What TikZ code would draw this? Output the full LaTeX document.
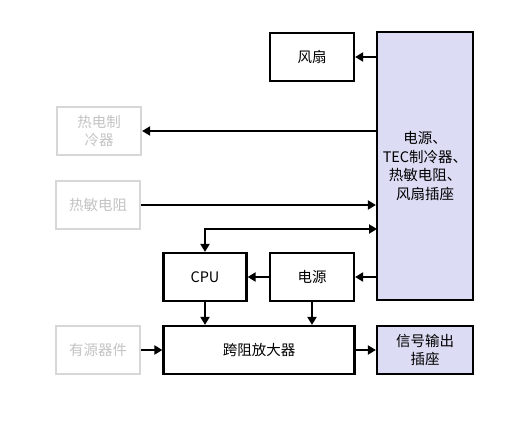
\documentclass[tikz,border=0pt]{standalone}
\usepackage{fontspec}
\setmainfont{Noto Sans CJK SC}
\usetikzlibrary{arrows.meta,positioning,calc}
\definecolor{lav}{RGB}{220,220,245}
\definecolor{faint}{RGB}{215,215,215}
\definecolor{fainttext}{RGB}{195,195,195}

\begin{document}
\begin{tikzpicture}[x=1pt,y=-1pt,
	blk/.style={draw,line width=2.2pt,minimum width=84pt,minimum height=48pt,align=center,inner sep=1pt,font=\fontsize{14.5}{18.5}\selectfont},
	dim/.style={blk,draw=faint,text=fainttext},
	arr/.style={-{Triangle[length=8pt,width=9pt]},line width=2.2pt},
	darr/.style={{Triangle[length=8pt,width=9pt]}-{Triangle[length=8pt,width=9pt]},line width=2.2pt}]
	\useasboundingbox (0,0) rectangle (528,423);
	\node[blk,fill=lav,minimum width=96pt,minimum height=268pt] (hub) at (425,166) {电源、\\TEC制冷器、\\热敏电阻、\\风扇插座};
	\node[blk] (fan) at (312,57) {风扇};
	\node[dim] (tec) at (99,131) {热电制\\冷器};
	\node[dim] (ntc) at (98,205) {热敏电阻};
	\node[blk,minimum width=83pt] (cpu) at (205,277) {CPU};
	\node[blk] (psu) at (312,277) {电源};
	\node[blk,minimum width=191pt] (tia) at (259,350) {跨阻放大器};
	\node[dim] (src) at (98,350) {有源器件};
	\node[blk,fill=lav,minimum width=96pt] (out) at (425,350) {信号输出\\插座};
	\coordinate (tap) at (377,229);
	\draw[arr] (fan.east -| hub.west) -- (fan.east);
	\draw[arr] (tec.east -| hub.west) -- (tec.east);
	\draw[arr] (ntc.east) -- (ntc.east -| hub.west);
	\draw[darr] (cpu.north) |- (tap);
	\draw[arr] (psu.east -| hub.west) -- (psu.east);
	\draw[arr] (psu.west) -- (cpu.east);
	\draw[arr] (cpu.south) -- (cpu.south |- tia.north);
	\draw[arr] (psu.south) -- (psu.south |- tia.north);
	\draw[arr] (src.east) -- (tia.west);
	\draw[arr] (tia.east) -- (out.west);
\end{tikzpicture}
\end{document}
